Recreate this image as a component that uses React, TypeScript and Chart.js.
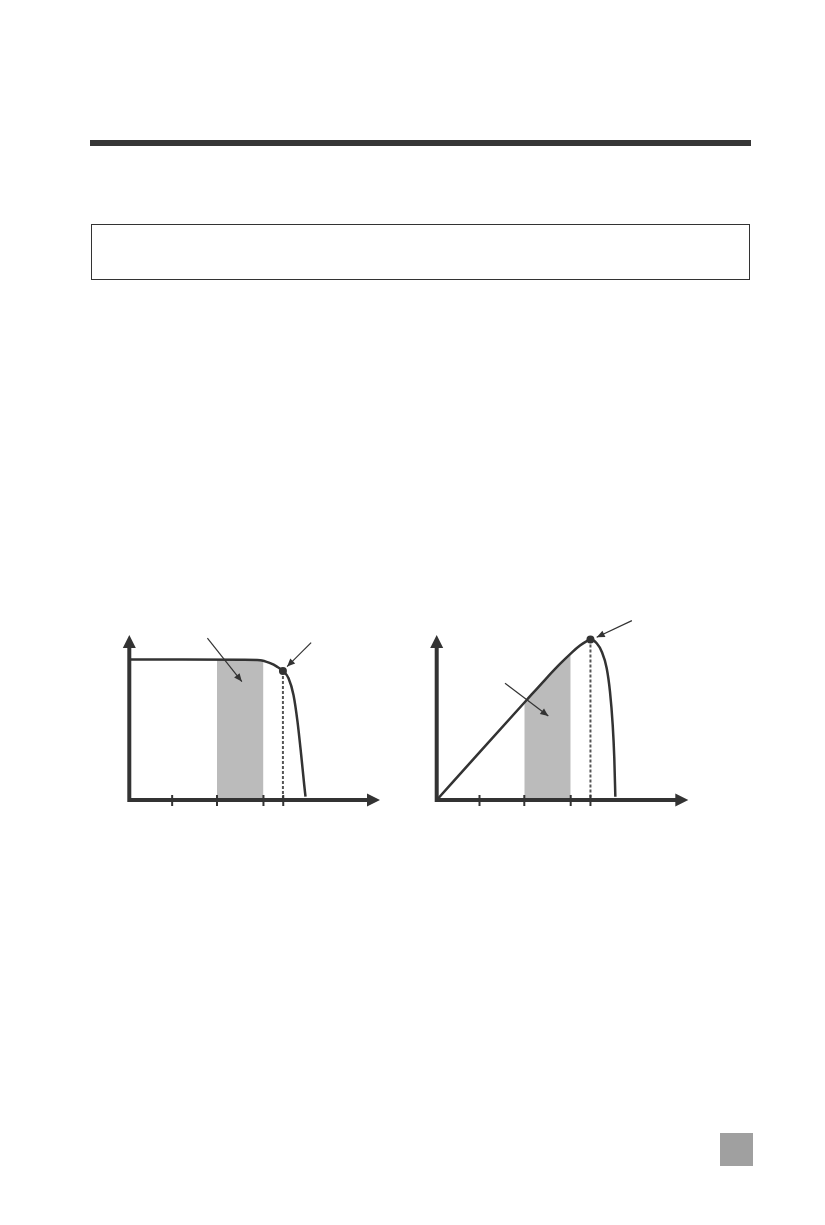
import { useEffect, useRef } from "react";
import { Chart, registerables } from "chart.js";

Chart.register(...registerables);

// tick positions on the voltage axis (both panels)
const voltTicks = [5.35, 10.95, 16.75, 19.22];

// I-V curve
const ivVolts = [0, 6.7, 14.2, 16.34, 17.59, 18.43, 19.18, 19.88, 20.5, 21.0, 21.46, 21.84, 22.0];
const ivAmps = [7.03, 7.02, 7.01, 6.99, 6.84, 6.67, 6.45, 6.09, 5.25, 3.92, 2.25, 0.75, 0.17];
const ivBandVolts = [10.95, 13.5, 16.75];
const ivBandAmps = [7.02, 7.01, 6.96];
const ivMpp = [19.18, 6.45];
// [fromX, fromY, toX, toY]
const ivArrows = [
  [9.75, 8.09, 14.05, 5.92],
  [22.7, 7.87, 19.7, 6.67],
];

// P-V curve
const pvVolts = [0, 5.6, 11.25, 13.54, 15.41, 16.88, 17.91, 18.66, 19.22, 20.0, 20.63, 21.25, 21.66, 22.0, 22.2, 22.33];
const pvWatts = [0, 38.6, 77.3, 92.9, 105.1, 113.9, 119.3, 122.4, 124.0, 121.1, 114.6, 101.8, 83.7, 58.0, 32.2, 2.5];
const pvBandVolts = [10.95, 12.5, 14.0, 15.41, 16.75];
const pvBandWatts = [75.2, 85.8, 95.9, 105.1, 113.1];
const pvMpp = [19.22, 124.0];
const pvArrows = [
  [8.54, 90.2, 13.95, 64.9],
  [24.4, 138.6, 20.0, 125.7],
];

const ink = "#333333";

function pts(xs: number[], ys: number[]) {
  return xs.map((x, i) => ({ x, y: ys[i] }));
}

function arrowHead(ctx: CanvasRenderingContext2D, x1: number, y1: number, x2: number, y2: number, len: number, half: number) {
  const a = Math.atan2(y2 - y1, x2 - x1);
  ctx.beginPath();
  ctx.moveTo(x2, y2);
  ctx.lineTo(x2 - len * Math.cos(a) + half * Math.sin(a), y2 - len * Math.sin(a) - half * Math.cos(a));
  ctx.lineTo(x2 - len * Math.cos(a) - half * Math.sin(a), y2 - len * Math.sin(a) + half * Math.cos(a));
  ctx.closePath();
  ctx.fill();
}

type PanelProps = {
  left: number;
  top: number;
  width: number;
  height: number;
  pad: { left: number; top: number; right: number; bottom: number };
  xs: number[];
  ys: number[];
  bandX: number[];
  bandY: number[];
  mpp: number[];
  arrows: number[][];
  xMax: number;
  yMax: number;
};

function Panel(p: PanelProps) {
  const canvasRef = useRef<HTMLCanvasElement>(null);

  useEffect(() => {
    if (!canvasRef.current) return;

    const axes = {
      id: "axes",
      afterDatasetsDraw(chart: any) {
        const { ctx, chartArea, scales } = chart;
        const { left, right, top, bottom } = chartArea;
        ctx.save();
        ctx.strokeStyle = ink;
        ctx.fillStyle = ink;
        ctx.lineWidth = 4;
        ctx.beginPath();
        ctx.moveTo(left, bottom + 2);
        ctx.lineTo(left, top + 10);
        ctx.moveTo(left - 2, bottom);
        ctx.lineTo(right - 10, bottom);
        ctx.stroke();
        arrowHead(ctx, left, bottom, left, top, 13, 6.5);
        arrowHead(ctx, left, bottom, right, bottom, 13, 6.5);
        ctx.lineWidth = 2;
        voltTicks.forEach((t) => {
          const x = scales.x.getPixelForValue(t);
          ctx.beginPath();
          ctx.moveTo(x, bottom - 5);
          ctx.lineTo(x, bottom + 6);
          ctx.stroke();
        });
        ctx.restore();
      },
      afterDraw(chart: any) {
        const { ctx, scales } = chart;
        ctx.save();
        ctx.strokeStyle = ink;
        ctx.fillStyle = ink;
        ctx.lineWidth = 1.2;
        p.arrows.forEach(([x1, y1, x2, y2]) => {
          const a = scales.x.getPixelForValue(x1);
          const b = scales.y.getPixelForValue(y1);
          const c = scales.x.getPixelForValue(x2);
          const d = scales.y.getPixelForValue(y2);
          ctx.beginPath();
          ctx.moveTo(a, b);
          ctx.lineTo(c, d);
          ctx.stroke();
          arrowHead(ctx, a, b, c, d, 8, 3.5);
        });
        ctx.restore();
      },
    };

    const chart = new Chart(canvasRef.current, {
      type: "line",
      data: {
        datasets: [
          {
            data: pts([p.mpp[0]], [p.mpp[1]]),
            pointRadius: 4,
            pointBackgroundColor: ink,
            pointBorderWidth: 0,
            showLine: false,
          },
          {
            data: pts(p.xs, p.ys),
            borderColor: ink,
            borderWidth: 2.5,
            cubicInterpolationMode: "monotone",
            pointRadius: 0,
            fill: false,
          },
          {
            data: pts([p.mpp[0], p.mpp[0]], [p.mpp[1], 0]),
            borderColor: "#555555",
            borderWidth: 2,
            borderDash: [3, 2],
            pointRadius: 0,
            fill: false,
          },
          {
            data: pts(p.bandX, p.bandY),
            borderWidth: 0,
            pointRadius: 0,
            backgroundColor: "#bbbbbb",
            fill: "origin",
          },
        ],
      },
      options: {
        animation: false,
        responsive: false,
        maintainAspectRatio: false,
        layout: { padding: p.pad },
        plugins: { legend: { display: false }, tooltip: { enabled: false } },
        scales: {
          x: { type: "linear", display: false, min: 0, max: p.xMax },
          y: { type: "linear", display: false, min: 0, max: p.yMax },
        },
      },
      plugins: [axes],
    } as any);

    return () => {
      chart.destroy();
    };
  }, []);

  return (
    <div style={{ position: "absolute", left: p.left, top: p.top, width: p.width, height: p.height }}>
      <canvas ref={canvasRef} width={p.width} height={p.height} style={{ width: p.width, height: p.height }}></canvas>
    </div>
  );
}

export default function App() {
  return (
    <div style={{ position: "absolute", left: 0, top: 0, width: 825, height: 1225, overflow: "hidden", background: "#fff" }}>
      <div style={{ position: "absolute", left: 90, top: 140, width: 661, height: 6, background: "#363636" }}></div>
      <div
        style={{
          position: "absolute",
          left: 91,
          top: 224,
          width: 657,
          height: 54,
          border: "1.5px solid #333",
        }}
      ></div>
      <Panel
        left={100}
        top={600}
        width={300}
        height={220}
        pad={{ left: 29.3, top: 35, right: 20, bottom: 20 }}
        xs={ivVolts}
        ys={ivAmps}
        bandX={ivBandVolts}
        bandY={ivBandAmps}
        mpp={ivMpp}
        arrows={ivArrows}
        xMax={31.3}
        yMax={8.25}
      />
      <Panel
        left={410}
        top={600}
        width={300}
        height={220}
        pad={{ left: 26.7, top: 35, right: 21.7, bottom: 20 }}
        xs={pvVolts}
        ys={pvWatts}
        bandX={pvBandVolts}
        bandY={pvBandWatts}
        mpp={pvMpp}
        arrows={pvArrows}
        xMax={31.45}
        yMax={127.5}
      />
      <div style={{ position: "absolute", left: 720, top: 1133, width: 33, height: 33, background: "#a0a0a0" }}></div>
    </div>
  );
}
